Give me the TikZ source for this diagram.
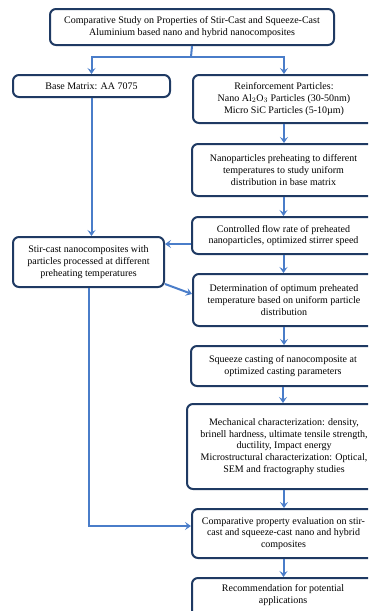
\documentclass[tikz,border=0pt]{standalone}
\usepackage{fontspec}
\setmainfont{Liberation Serif}
\usetikzlibrary{arrows.meta}
\definecolor{navy}{HTML}{1F3A63}
\definecolor{arblue}{HTML}{4A7DC9}
\tikzset{
  box/.style={draw=navy, line width=2pt, rounded corners=6pt, align=center,
    font=\fontsize{10}{11.7}\selectfont, anchor=north west, inner sep=0pt},
  arr/.style={draw=arblue, line width=2pt, -{Stealth[length=6pt,width=8pt,inset=2.5pt]}},
  ln/.style={draw=arblue, line width=2pt},
}
\begin{document}
\begin{tikzpicture}[x=1pt,y=-1pt]
\useasboundingbox (0,0) rectangle (368,611);
\clip (0,0) rectangle (368,611);
\node[box, minimum width=284pt, minimum height=36pt] (top) at (49,8)
  {Comparative Study on Properties of Stir-Cast and Squeeze-Cast\\Aluminium based nano and hybrid nanocomposites};
\node[box, minimum width=157pt, minimum height=22pt] (base) at (12,74) {Base Matrix: AA 7075};
\node[box, minimum width=182pt, minimum height=48pt] (reinf) at (192,74)
  {Reinforcement Particles:\\Nano Al$_2$O$_3$ Particles (30-50nm)\\Micro SiC Particles (5-10µm)};
\node[box, minimum width=183pt, minimum height=52pt] (nano) at (191,143)
  {Nanoparticles preheating to different\\temperatures to study uniform\\distribution in base matrix};
\node[box, minimum width=183pt, minimum height=37pt] (ctrl) at (191,216)
  {Controlled flow rate of preheated\\nanoparticles, optimized stirrer speed};
\node[box, minimum width=151pt, minimum height=50pt] (stir) at (12,236)
  {Stir-cast nanocomposites with\\particles processed at different\\preheating temperatures};
\node[box, minimum width=182pt, minimum height=52pt] (det) at (192,273)
  {Determination of optimum preheated\\temperature based on uniform particle\\distribution};
\node[box, minimum width=184pt, minimum height=40pt] (sq) at (190,345)
  {Squeeze casting of nanocomposite at\\optimized casting parameters};
\node[box, minimum width=194pt, minimum height=85pt] (mech) at (186,403)
  {Mechanical characterization: density,\\brinell hardness, ultimate tensile strength,\\ductility, Impact energy\\Microstructural characterization: Optical,\\SEM and fractography studies};
\node[box, minimum width=183pt, minimum height=49pt] (comp) at (191,508)
  {Comparative property evaluation on stir-\\cast and squeeze-cast nano and hybrid\\composites};
\node[box, minimum width=183pt, minimum height=48pt] (rec) at (191,577) {};
\node[align=center, font=\fontsize{10}{11.7}\selectfont, anchor=north] (rectext) at (283,581)
  {Recommendation for potential\\applications};
\coordinate (split) at (191,57);
\draw[ln] (top.south) -- (split);
\draw[arr] (split) -| (base.north);
\draw[arr] (split) -| (reinf.north);
\draw[arr] (reinf.south) -- (reinf.south |- nano.north);
\draw[arr] (nano.south) -- (nano.south |- ctrl.north);
\draw[arr] (ctrl.south) -- (ctrl.south |- det.north);
\draw[arr] (det.south) -- (det.south |- sq.north);
\draw[arr] (sq.south) -- (sq.south |- mech.north);
\draw[arr] (mech.south) -- (mech.south |- comp.north);
\draw[arr] (comp.south) -- (comp.south |- rec.north);
\draw[arr] (base.south) -- (base.south |- stir.north);
\draw[arr] ([yshift=-8.5pt]ctrl.west) -- ([yshift=-8.5pt]ctrl.west -| stir.east);
\draw[arr] ([yshift=4pt]stir.south east) -- ([yshift=6pt]det.west);
\coordinate (bend) at ([yshift=7.5pt]comp.west -| stir.south);
\draw[arr] (stir.south) -- (bend) -- ([yshift=7.5pt]comp.west);
\end{tikzpicture}
\end{document}
